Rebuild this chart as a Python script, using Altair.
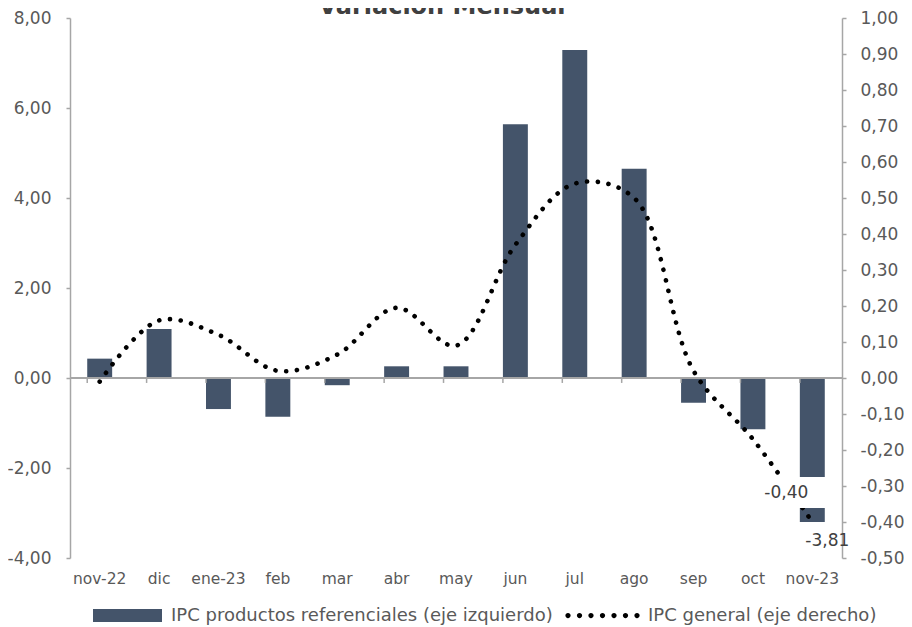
import altair as alt
import pandas as pd

months = ["nov-22", "dic", "ene-23", "feb", "mar", "abr", "may", "jun", "jul", "ago", "sep", "oct", "nov-23"]
ref = [0.43, 1.09, -0.69, -0.86, -0.16, 0.26, 0.26, 5.64, 7.29, 4.65, -0.55, -1.14, -3.20]
gen = [-0.01, 0.16, 0.12, 0.02, 0.065, 0.195, 0.09, 0.37, 0.54, 0.50, 0.02, -0.17, -0.40]
ref_labels = ["", "", "", "", "", "", "", "", "", "", "", "", "-3,81"]
gen_labels = ["", "", "", "", "", "", "", "", "", "", "", "", "-0,40"]
left_ticks = [-4, -2, 0, 2, 4, 6, 8]
right_ticks = [-0.5, -0.4, -0.3, -0.2, -0.1, 0.0, 0.1, 0.2, 0.3, 0.4, 0.5, 0.6, 0.7, 0.8, 0.9, 1.0]
SERIE_BAR = "IPC productos referenciales (eje izquierdo)"
SERIE_LINE = "IPC general (eje derecho)"
TITLE = "Variación Mensual"

df = pd.DataFrame({
    "mes": months, "ref": ref, "gen": gen,
    "lab_ref": ref_labels, "lab_gen": gen_labels,
    "s1": SERIE_BAR, "s2": SERIE_LINE,
})

FONT = "DejaVu Sans"
GRAY = "#A6A6A6"
TXT = "#595959"
BAR = "#44546A"
FMT = "replace(replace(format(datum.value, '.2f'), '.', ','), '\u2212', '-')"

RECT_PATH = "M-1,-0.19L1,-0.19L1,0.19L-1,0.19Z"
def dots_path(n=7, span=0.92, r=0.07):
    parts = []
    for i in range(n):
        cx = -span + i * (2 * span / (n - 1))
        parts.append(f"M{cx - r:.3f},0a{r},{r} 0 1,0 {2 * r:.3f},0a{r},{r} 0 1,0 {-2 * r:.3f},0Z")
    return "".join(parts)
DOTS_PATH = dots_path()

xscale = alt.Scale(paddingInner=0.58, paddingOuter=0.29)
yl = alt.Scale(domain=[-4, 8], nice=False, zero=False)
yr = alt.Scale(domain=[-0.5, 1.0], nice=False, zero=False)

AX_X = alt.Axis(title=None, domain=False, ticks=False, labelAngle=0, labelPadding=13,
                labelFont=FONT, labelFontSize=15.5, labelColor=TXT)
AX_L = alt.Axis(title=None, orient="left", values=left_ticks, labelExpr=FMT, grid=False,
                domainColor=GRAY, domainWidth=1.5, tickColor=GRAY, tickWidth=1.5,
                tickSize=4, labelPadding=15, labelFont=FONT, labelFontSize=17, labelColor=TXT)
AX_R = alt.Axis(title=None, orient="right", values=right_ticks, labelExpr=FMT, grid=False,
                domainColor=GRAY, domainWidth=1.5, tickColor=GRAY, tickWidth=1.5,
                tickSize=4, labelPadding=14, labelFont=FONT, labelFontSize=17, labelColor=TXT)

def X(**kw):
    return alt.X("mes:N", sort=months, scale=xscale, axis=AX_X, **kw)

base = alt.Chart(df)

bars = base.mark_bar().encode(
    x=X(),
    y=alt.Y("ref:Q", scale=yl, axis=AX_L),
    color=alt.Color("s1:N", scale=alt.Scale(domain=[SERIE_BAR], range=[BAR]),
                    legend=alt.Legend(title=None, orient="none", legendX=23, legendY=563,
                                      symbolType=RECT_PATH, symbolSize=4761, symbolStrokeWidth=0,
                                      labelFont=FONT, labelFontSize=18, labelColor=TXT,
                                      labelOffset=9, labelLimit=0, padding=0)),
)

zero_rule = base.mark_rule(color=GRAY, strokeWidth=1.5).encode(
    y=alt.YDatum(0, scale=yl, axis=AX_L)
)

ticks = base.mark_rule(color=GRAY, strokeWidth=1.5).encode(
    x=X(bandPosition=0),
    y=alt.YDatum(0, scale=yl, axis=AX_L),
    y2=alt.Y2Datum(-0.11),
)

lab_ref = base.mark_text(font=FONT, fontSize=17, color="#404040", dx=15, dy=19).encode(
    x=X(),
    y=alt.Y("ref:Q", scale=yl, axis=AX_L),
    text="lab_ref:N",
)

line = base.mark_line(strokeWidth=4.6, strokeDash=[0.1, 10.7], strokeCap="round",
                      interpolate="catmull-rom").encode(
    x=X(),
    y=alt.Y("gen:Q", scale=yr, axis=AX_R),
    stroke=alt.Stroke("s2:N", scale=alt.Scale(domain=[SERIE_LINE], range=["black"]),
                      legend=alt.Legend(title=None, orient="none", legendX=495, legendY=560,
                                        symbolType=DOTS_PATH, symbolSize=5625,
                                        symbolFillColor="black", symbolStrokeColor="black",
                                        symbolStrokeWidth=0,
                                        labelFont=FONT, labelFontSize=18, labelColor=TXT,
                                        labelOffset=8, labelLimit=0, padding=0)),
)

gap = base.transform_filter(alt.datum.mes == "nov-23").mark_bar(
    color="white", width=66, xOffset=-18
).encode(
    x=X(),
    y=alt.YDatum(-0.275, scale=yr, axis=AX_R),
    y2=alt.Y2Datum(-0.361),
)

lab_gen = base.mark_text(font=FONT, fontSize=17, color="#404040", dx=-26, dy=-29).encode(
    x=X(),
    y=alt.Y("gen:Q", scale=yr, axis=AX_R),
    text="lab_gen:N",
)

title = base.transform_filter(alt.datum.mes == "nov-22").mark_text(
    font=FONT, fontSize=24, fontWeight="bold", color="#404040",
    align="center", baseline="alphabetic"
).encode(text=alt.value(TITLE), x=alt.value(372), y=alt.value(-4))

left = alt.layer(bars, zero_rule, ticks, lab_ref)
right = alt.layer(line, gap, lab_gen, title)

chart = alt.layer(left, right).resolve_scale(y="independent").properties(
    width=772, height=540,
    padding={"left": 62, "top": 10, "right": 62, "bottom": 69},
    autosize=alt.AutoSizeParams(type="none"),
).configure(background="white").configure_view(stroke=None)

chart.save("out.html", embed_options={"renderer": "svg", "actions": False})
